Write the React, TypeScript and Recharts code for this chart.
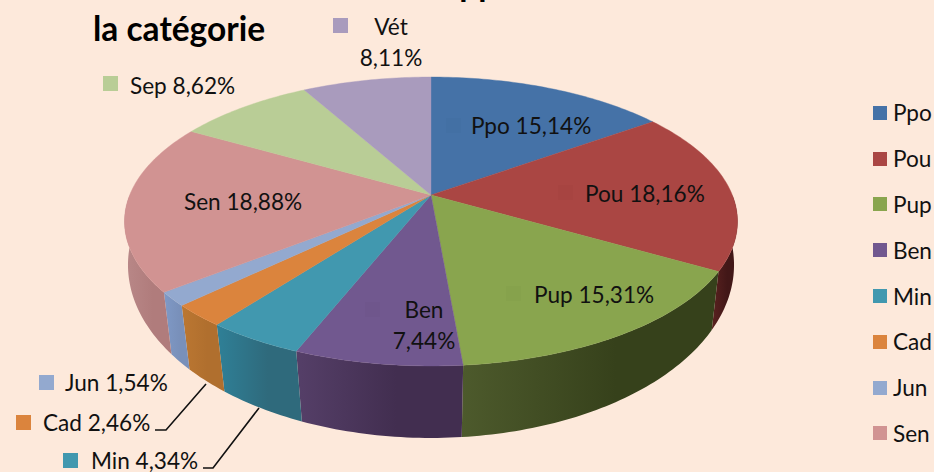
import { PieChart, Pie, Legend } from 'recharts'

const categories = ['Ppo', 'Pou', 'Pup', 'Ben', 'Min', 'Cad', 'Jun', 'Sen', 'Sep', 'Vét']
const shares = [15.14, 18.16, 15.31, 7.44, 4.34, 2.46, 1.54, 18.88, 8.62, 8.11]

const topColors = ['#4572A7', '#AA4643', '#89A54E', '#71588F', '#4198AF', '#DB843D', '#93A9CF', '#D19392', '#B9CD96', '#A99BBD']
const sideLeft = ['#2b4568', '#5a2220', '#4d5a2c', '#553f68', '#2f8097', '#bb7732', '#7f99c6', '#b98888', '#8a9a70', '#7d7390']
const sideRight = ['#2b4568', '#421717', '#36411b', '#422e50', '#2f6a7c', '#b06f2e', '#7990ba', '#b07c7c', '#8a9a70', '#7d7390']

const FONT = 'Lato, Carlito, sans-serif'
const BG = '#FDE9DB'
const LABEL_SIZE = 22.6
const LEGEND_ROWS = 8 // the last two rows fall below the picture

// perspective of the disc, measured on the reference
const CX = 431
const TOP = { cy: 195, a: 301.3, b: 139.6, k: 0.1834 }
const BOTTOM = { cy: 239, a: 299.6, b: 169.1, k: 0.15 }

// where each data label sits (swatch, text centre / left, optional leader)
const labelSpots: any[] = [
  { sx: 446, sy: 118, tx: 471, ty: 125, faint: 0.015 },
  { sx: 558, sy: 185, tx: 585, ty: 193, faint: 0.015 },
  { sx: 506, sy: 286, tx: 534, ty: 294, faint: 0.015 },
  { sx: 365, sy: 302, cx: 424, ty: 309, faint: 0.015, twoLines: true },
  { sx: 63, sy: 453, tx: 91, ty: 460, leader: '259,408 213,468 203,468' },
  { sx: 16, sy: 415, tx: 43, ty: 422, leader: '206,384 166,430 155,430' },
  { sx: 39, sy: 375, tx: 65, ty: 382 },
  { sx: 157, sy: 194, tx: 184, ty: 201, faint: 0.001 },
  { sx: 103, sy: 76, tx: 130, ty: 85 },
  { sx: 333, sy: 18, cx: 391, ty: 26, twoLines: true },
]

const chartData = categories.map((name, i) => ({ name, value: shares[i], fill: topColors[i] }))

const pct = (v: number) => v.toFixed(2).replace('.', ',') + '%'

function project(t: number, p: typeof TOP) {
  const r = (t * Math.PI) / 180
  const u = Math.sin(r)
  const v = Math.cos(r)
  const w = 1 + p.k * v
  return [CX + (p.a * u) / w, p.cy - (p.b * v) / w]
}

function rim(t0: number, t1: number, p: typeof TOP) {
  const pts: string[] = []
  const n = Math.max(2, Math.ceil(Math.abs(t1 - t0)))
  for (let i = 0; i <= n; i++) {
    const [x, y] = project(t0 + ((t1 - t0) * i) / n, p)
    pts.push(`${x.toFixed(2)} ${y.toFixed(2)}`)
  }
  return pts
}

// Recharts hands out math angles, 0 at 3 o'clock; the disc wants clockwise from 12
function TopSlice(props: any) {
  const t0 = 90 - props.startAngle
  const t1 = 90 - props.endAngle
  const d = `M${CX} ${TOP.cy} L${rim(t0, t1, TOP).join(' L')} Z`
  return <path d={d} fill={topColors[props.index]} stroke={topColors[props.index]} strokeWidth={0.4} />
}

function SideSlice(props: any) {
  const t0 = Math.max(90 - props.startAngle, 90)
  const t1 = Math.min(90 - props.endAngle, 270)
  if (t1 <= t0) return <g />
  const upper = rim(t0, t1, TOP)
  const lower = rim(t1, t0, BOTTOM)
  return <path d={`M${upper.concat(lower).join(' L')} Z`} fill={`url(#side${props.index})`} />
}

function DataLabel(props: any) {
  const i = props.index
  const spot = labelSpots[i]
  const swatch = (
    <rect
      x={spot.sx}
      y={spot.sy}
      width={15}
      height={15}
      fill={spot.faint ? '#000' : topColors[i]}
      fillOpacity={spot.faint ? spot.faint : 1}
    />
  )
  const textProps = { fontFamily: FONT, fontSize: LABEL_SIZE, fill: '#111', dominantBaseline: 'central' as const }
  return (
    <g>
      {swatch}
      {spot.leader && <polyline points={spot.leader} fill="none" stroke="#111" strokeWidth={1.6} />}
      {spot.twoLines ? (
        <>
          <text x={spot.cx} y={spot.ty} textAnchor="middle" {...textProps}>{categories[i]}</text>
          <text x={spot.cx} y={spot.ty + 31} textAnchor="middle" {...textProps}>{pct(shares[i])}</text>
        </>
      ) : (
        <text x={spot.tx} y={spot.ty} {...textProps}>{categories[i] + ' ' + pct(shares[i])}</text>
      )}
    </g>
  )
}

function LegendBox({ payload }: any) {
  const rows = (payload || []).filter((item: any) => item.type !== 'none').slice(0, LEGEND_ROWS)
  return (
    <div style={{ fontFamily: FONT, fontSize: LABEL_SIZE, color: '#111' }}>
      {rows.map((item: any) => (
        <div key={item.value} style={{ height: 45.8, display: 'flex', alignItems: 'center', whiteSpace: 'nowrap' }}>
          <span style={{ width: 14, height: 14, background: item.color, marginRight: 6, flex: 'none' }} />
          {item.value}
        </div>
      ))}
    </div>
  )
}

export default function App() {
  return (
    <div style={{ position: 'absolute', left: 0, top: 0, width: 934, height: 472, overflow: 'hidden', background: BG }}>
      <PieChart width={934} height={472} margin={{ top: 0, right: 0, bottom: 0, left: 0 }}>
        <defs>
          {categories.map((c, i) => (
            <linearGradient key={c} id={`side${i}`} x1="0" y1="0" x2="1" y2="0">
              <stop offset="0%" stopColor={sideLeft[i]} />
              <stop offset="60%" stopColor={sideRight[i]} />
              <stop offset="100%" stopColor={sideRight[i]} />
            </linearGradient>
          ))}
        </defs>
        <text x={430} y={-4} fontFamily={FONT} fontWeight={700} fontSize={33.5} fill="#000">rapport</text>
        <text x={93} y={41} fontFamily={FONT} fontWeight={700} fontSize={33.5} fill="#000">la catégorie</text>
        <Pie
          data={chartData}
          dataKey="value"
          nameKey="name"
          cx={CX}
          cy={TOP.cy}
          outerRadius={140}
          startAngle={90}
          endAngle={-270}
          stroke="none"
          legendType="none"
          shape={SideSlice}
          label={false}
          labelLine={false}
          isAnimationActive={false}
        />
        <Pie
          data={chartData}
          dataKey="value"
          nameKey="name"
          cx={CX}
          cy={TOP.cy}
          outerRadius={140}
          startAngle={90}
          endAngle={-270}
          stroke="none"
          shape={TopSlice}
          label={DataLabel}
          labelLine={false}
          isAnimationActive={false}
        />
        <Legend
          layout="vertical"
          align="right"
          verticalAlign="top"
          content={LegendBox}
          itemSorter={null}
          wrapperStyle={{ left: 873, top: 90, width: 70, right: 'auto', bottom: 'auto' }}
        />
      </PieChart>
    </div>
  )
}
